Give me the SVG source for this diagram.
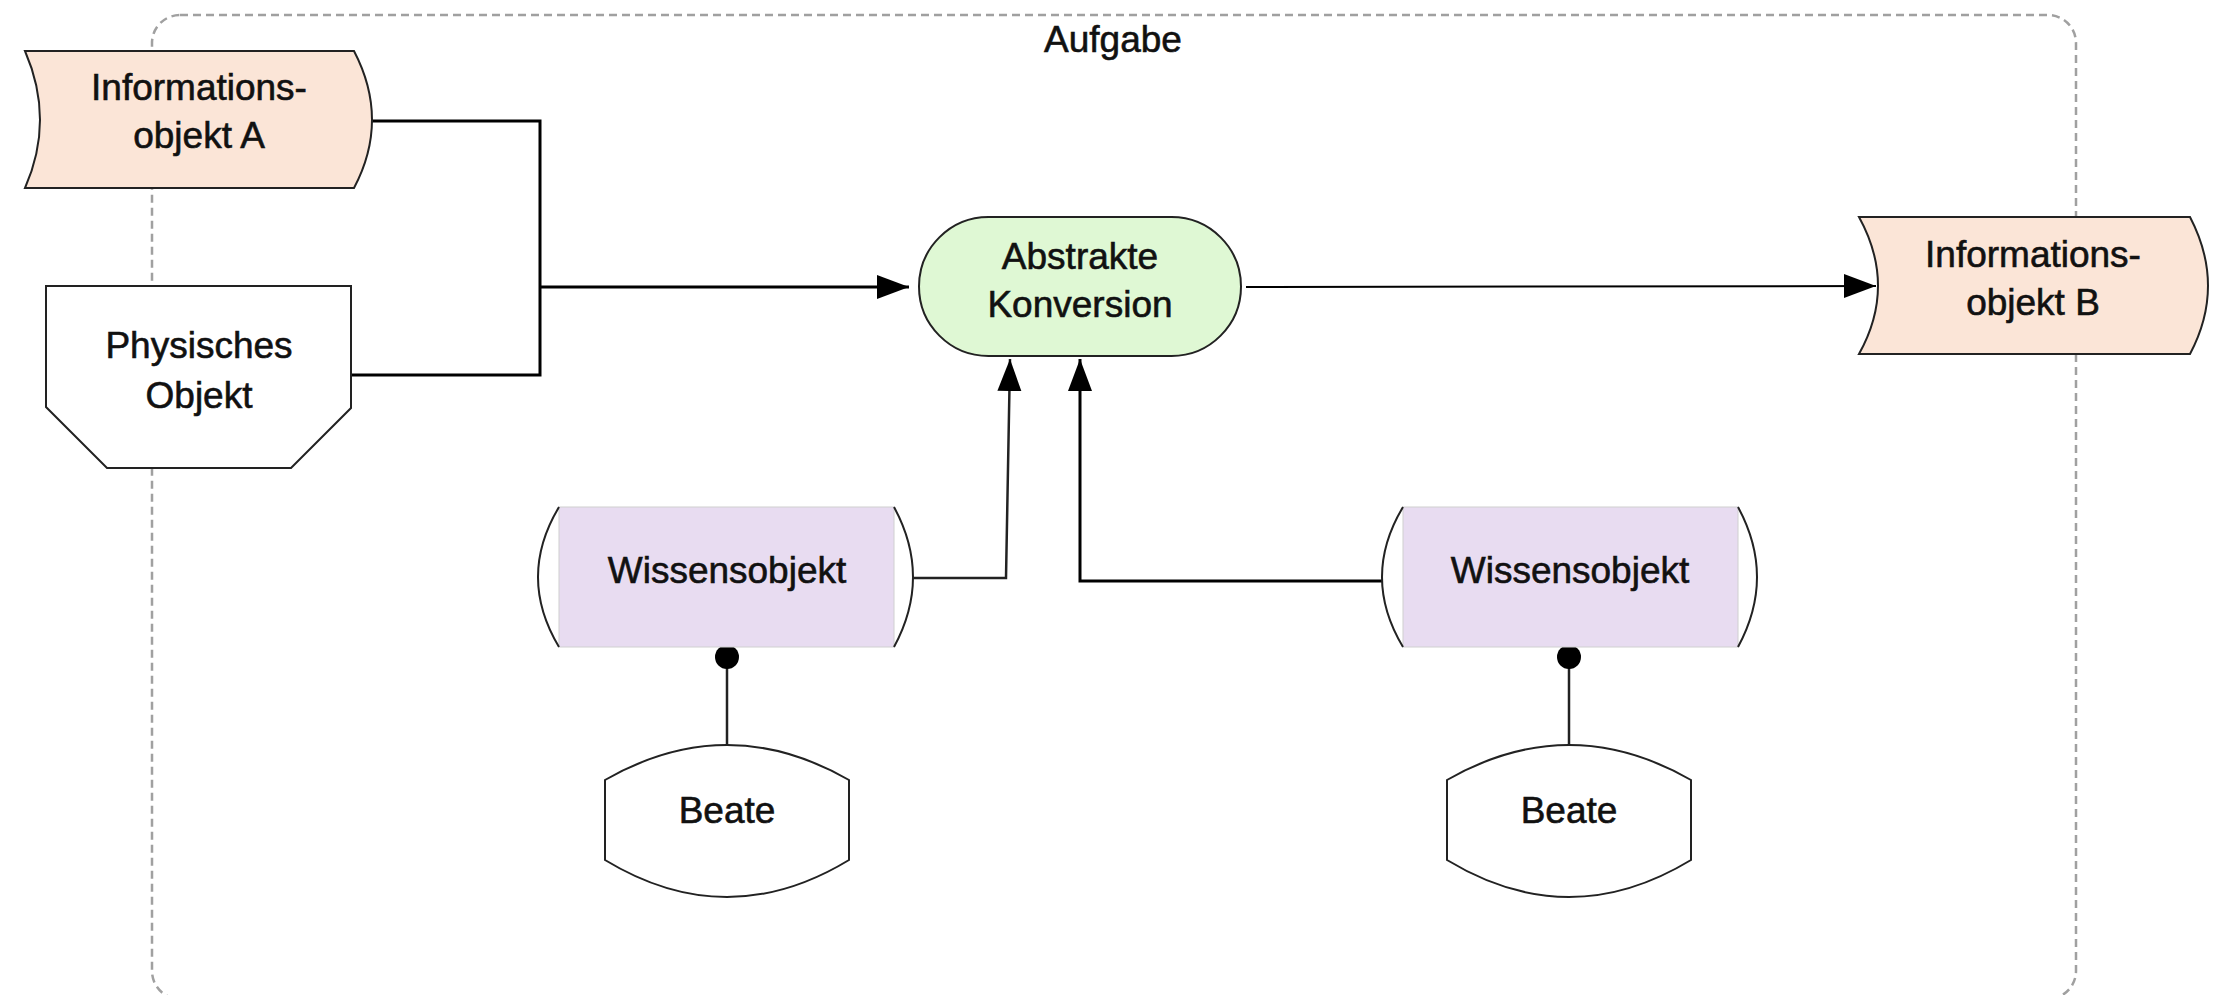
<svg xmlns="http://www.w3.org/2000/svg" width="2227" height="995" viewBox="0 0 2227 995">
  <style>
    .t { font-family: "Liberation Sans", Arial, sans-serif; font-size: 37px; fill: #111; stroke: #111; stroke-width: 0.6; text-anchor: middle; }
    .shape { stroke: #222; stroke-width: 2; }
    .info { fill: #fbe5d7; }
    .conn { fill: none; stroke: #000; stroke-width: 3; }
    .bracket { fill: none; stroke: #222; stroke-width: 2; }
  </style>
  <defs>
    <marker id="arrow" markerUnits="userSpaceOnUse" markerWidth="34" markerHeight="26" refX="32" refY="12" orient="auto">
      <path d="M0,0 L32,12 L0,24 Z" fill="#000"/>
    </marker>
  </defs>
  <rect width="2227" height="995" fill="#fff"/>

  <g id="frame">
    <rect x="152" y="15" width="1924" height="984" rx="28" ry="28" fill="none" stroke="#a0a0a0" stroke-width="2.5" stroke-dasharray="8,5"/>
    <text class="t" x="1113" y="52">Aufgabe</text>
  </g>

  <g id="connectors">
    <path class="conn" d="M372,121 L540,121 L540,375 L351,375"/>
    <path class="conn" d="M540,287 L909,287" marker-end="url(#arrow)"/>
    <path class="conn" style="stroke-width:2" d="M1246,287 L1876,286" marker-end="url(#arrow)"/>
    <path class="conn" style="stroke-width:2.5;stroke:#222" d="M913,578 L1006,578 L1010,359" marker-end="url(#arrow)"/>
    <path class="conn" d="M1382,581 L1080,581 L1080,359" marker-end="url(#arrow)"/>
    <line x1="727" y1="657" x2="727" y2="745" stroke="#222" stroke-width="2.5"/>
    <circle cx="727" cy="657" r="12" fill="#000"/>
    <line x1="1569" y1="657" x2="1569" y2="745" stroke="#222" stroke-width="2.5"/>
    <circle cx="1569" cy="657" r="12" fill="#000"/>
  </g>

  <g id="info-a">
    <path class="shape info" d="M25,51 L354,51 Q390,120 354,188 L25,188 Q55,120 25,51 Z"/>
    <text class="t" x="199" y="100">Informations-</text>
    <text class="t" x="199" y="148">objekt A</text>
  </g>

  <g id="physisches-objekt">
    <path class="shape" fill="#fff" d="M46,286 L351,286 L351,408 L291,468 L107,468 L46,407 Z"/>
    <text class="t" x="199" y="358">Physisches</text>
    <text class="t" x="199" y="408">Objekt</text>
  </g>

  <g id="abstrakte-konversion">
    <rect class="shape" x="919" y="217" width="322" height="139" rx="69.5" ry="69.5" fill="#dff8d4"/>
    <text class="t" x="1080" y="269">Abstrakte</text>
    <text class="t" x="1080" y="317">Konversion</text>
  </g>

  <g id="info-b">
    <path class="shape info" d="M1859,217 L2190,217 Q2226,286 2190,354 L1859,354 Q1897,286 1859,217 Z"/>
    <text class="t" x="2033" y="267">Informations-</text>
    <text class="t" x="2033" y="315">objekt B</text>
  </g>

  <g id="wissensobjekt-1">
    <rect x="559" y="507" width="335" height="140" fill="#e8dcf1" stroke="#d0d0d0" stroke-width="1"/>
    <path class="bracket" d="M559,507 Q517,577 559,647"/>
    <path class="bracket" d="M894,507 Q932,577 894,647"/>
    <text class="t" x="727" y="583">Wissensobjekt</text>
  </g>

  <g id="wissensobjekt-2">
    <rect x="1403" y="507" width="335" height="140" fill="#e8dcf1" stroke="#d0d0d0" stroke-width="1"/>
    <path class="bracket" d="M1403,507 Q1361,577 1403,647"/>
    <path class="bracket" d="M1738,507 Q1776,577 1738,647"/>
    <text class="t" x="1570" y="583">Wissensobjekt</text>
  </g>

  <g id="beate-1">
    <path class="shape" fill="#fff" d="M605,780 Q727,710 849,780 L849,860 Q727,934 605,860 Z"/>
    <text class="t" x="727" y="823">Beate</text>
  </g>

  <g id="beate-2">
    <path class="shape" fill="#fff" d="M1447,780 Q1569,710 1691,780 L1691,860 Q1569,934 1447,860 Z"/>
    <text class="t" x="1569" y="823">Beate</text>
  </g>
</svg>
